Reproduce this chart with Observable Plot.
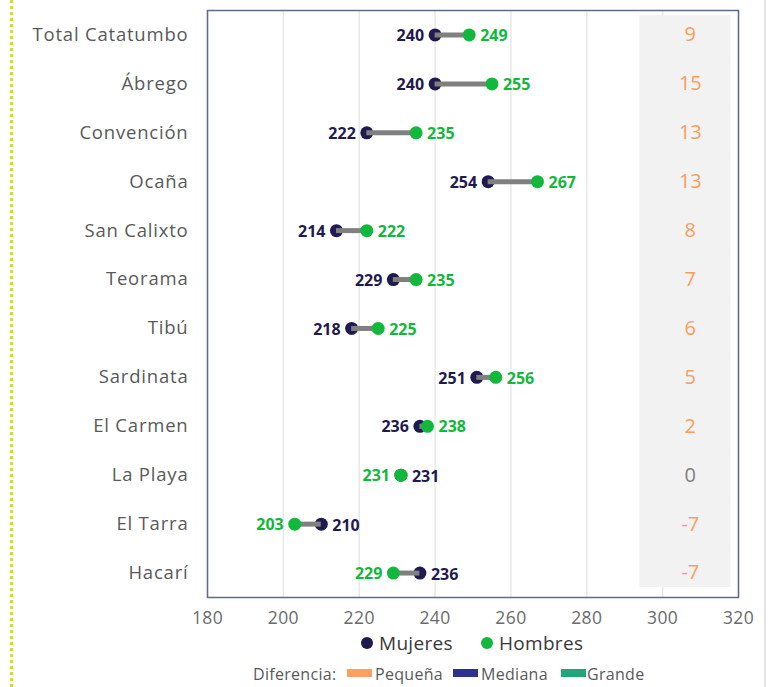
<!DOCTYPE html>
<html><head><meta charset="utf-8">
<script src="https://cdn.jsdelivr.net/npm/d3@7"></script>
<script src="https://cdn.jsdelivr.net/npm/@observablehq/plot@0.6"></script>
<style>
body{margin:0;background:#fff;width:779px;height:687px;position:relative;overflow:hidden;font-family:"Open Sans",sans-serif;}
#chart{position:absolute;left:0;top:0;}
#chart g[aria-label="y-axis tick label"] text{letter-spacing:0.8px;}
#chart g[aria-label="x-axis tick label"] text{letter-spacing:0.4px;}
.dotline{position:absolute;left:10px;top:0;height:687px;border-left:3px dotted #c8e22c;}
.rline{position:absolute;left:764px;top:0;height:687px;border-left:2px solid #e3e3e3;}
.lg{position:absolute;white-space:nowrap;line-height:1;}
.c{position:absolute;width:12px;height:12px;border-radius:50%;}
.t2{position:absolute;top:666px;font-size:16px;color:#595959;line-height:1;white-space:nowrap;letter-spacing:0.3px;}
.sw{position:absolute;top:669px;width:25px;height:8px;}
</style></head><body>
<div class="dotline"></div>
<div class="rline"></div>
<div id="chart"></div>
<div class="c" style="left:361px;top:637px;background:#1f1a4f"></div>
<div class="lg" style="left:379px;top:634px;font-size:19px;color:#383838;letter-spacing:0.3px">Mujeres</div>
<div class="c" style="left:481px;top:637px;background:#12b83c"></div>
<div class="lg" style="left:499px;top:634px;font-size:19px;color:#383838;letter-spacing:0.3px">Hombres</div>
<div class="t2" style="left:253px">Diferencia:</div>
<div class="sw" style="left:347px;background:#fba05e"></div>
<div class="t2" style="left:375px">Pequeña</div>
<div class="sw" style="left:453px;background:#2e3192"></div>
<div class="t2" style="left:481px">Mediana</div>
<div class="sw" style="left:561px;background:#23a57a"></div>
<div class="t2" style="left:587px">Grande</div>
<script>
const municipios = ["Total Catatumbo","Ábrego","Convención","Ocaña","San Calixto","Teorama","Tibú","Sardinata","El Carmen","La Playa","El Tarra","Hacarí"];
const mujeres = [240,240,222,254,214,229,218,251,236,231,210,236];
const hombres = [249,255,235,267,222,235,225,256,238,231,203,229];
const diferencia = [9,15,13,13,8,7,6,5,2,0,-7,-7];
const nivel = ["Pequeña","Pequeña","Pequeña","Pequeña","Pequeña","Pequeña","Pequeña","Pequeña","Pequeña","Nula","Pequeña","Pequeña"];
const xTicks = [180,200,220,240,260,280,300,320];

const rows = municipios.map((name,i)=>({name, muj:mujeres[i], hom:hombres[i], diff:diferencia[i], nivel:nivel[i]}));
const NAVY="#1f1a4f", GREEN="#12b83c", ORANGE="#fa9d5c", GREY="#7f7f7f";
const catFont = "'Open Sans', sans-serif";
const numFont = "'Open Sans', sans-serif";
const colX = [294, 318, 307.3];
const panel = {x1: () => colX[0], x2: () => colX[1], y: "name", fill: "#f2f2f2"};

const chart = Plot.plot({
  width: 779, height: 635,
  marginTop: 10, marginBottom: 38, marginLeft: 207, marginRight: 41,
  x: {domain: [180,320], label: null},
  y: {domain: municipios, label: null, padding: 0, round: false},
  style: {fontFamily: catFont, color: "#595959", background: "transparent", overflow: "visible"},
  marks: [
    Plot.ruleX(xTicks, {stroke: "#e8e8e8", strokeWidth: 1.5}),
    Plot.barX(rows.slice(0, 1), {...panel, insetTop: 5, insetBottom: -0.5}),
    Plot.barX(rows.slice(1, -1), {...panel, insetTop: -0.5, insetBottom: -0.5}),
    Plot.barX(rows.slice(-1), {...panel, insetTop: -0.5, insetBottom: 10}),
    Plot.frame({stroke: "#5d6c86", strokeWidth: 1.5}),
    Plot.ruleY([0], {frameAnchor: "top", stroke: "#1f2d5c", strokeWidth: 2}),
    Plot.axisX({ticks: xTicks, tickSize: 0, tickPadding: 14, fontSize: 17.5, fill: "#6b6b6b"}),
    Plot.axisY({tickSize: 0, tickPadding: 19, fontSize: 18.5, fill: "#595959"}),
    Plot.dot(rows, {x: "muj", y: "name", r: 6.5, fill: NAVY}),
    Plot.ruleY(rows, {y: "name", x1: "muj", x2: "hom", stroke: "#808080", strokeWidth: 5}),
    Plot.dot(rows, {x: "hom", y: "name", r: 6.5, fill: GREEN}),
    // labels: mujeres
    Plot.text(rows.filter(d => d.muj < d.hom), {x: "muj", y: "name", text: d => String(d.muj), textAnchor: "end", dx: -11, dy: 1, fill: NAVY, fontSize: 16, fontWeight: "bold", fontFamily: numFont}),
    Plot.text(rows.filter(d => d.muj >= d.hom), {x: "muj", y: "name", text: d => String(d.muj), textAnchor: "start", dx: 11, dy: 2, fill: NAVY, fontSize: 16, fontWeight: "bold", fontFamily: numFont}),
    // labels: hombres
    Plot.text(rows.filter(d => d.muj < d.hom), {x: "hom", y: "name", text: d => String(d.hom), textAnchor: "start", dx: 11, dy: 1, fill: GREEN, fontSize: 16, fontWeight: "bold", fontFamily: numFont}),
    Plot.text(rows.filter(d => d.muj >= d.hom), {x: "hom", y: "name", text: d => String(d.hom), textAnchor: "end", dx: -11, dy: 1, fill: GREEN, fontSize: 16, fontWeight: "bold", fontFamily: numFont}),
    // diferencia column
    Plot.text(rows, {x: () => colX[2], y: "name", text: d => String(d.diff), fill: d => d.nivel === "Nula" ? GREY : ORANGE, fontSize: 20, fontFamily: catFont})
  ]
});
document.getElementById("chart").appendChild(chart);
</script>
</body></html>
